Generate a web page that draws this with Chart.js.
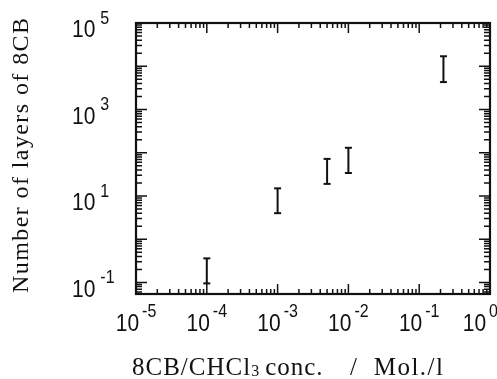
<!DOCTYPE html>
<html>
<head>
<meta charset="utf-8">
<script src="https://cdn.jsdelivr.net/npm/chart.js@4/dist/chart.umd.min.js"></script>
<style>
  html, body { margin: 0; padding: 0; background: #fff; }
  #wrap { width: 497px; height: 379px; }
</style>
</head>
<body>
<div id="wrap"><canvas id="c"></canvas></div>
<script>
// concentrations (Mol./l) and error-bar limits for the number of layers
var concentrations = [1e-4, 1e-3, 5e-3, 1e-2, 0.22];
var layersLow  = [0.095, 4.0, 19, 34, 4300];
var layersHigh = [0.36, 15, 72, 130, 17000];

// decade exponents used for axis labels and ticks
var xLabelExps = [-5, -4, -3, -2, -1, 0];
var yLabelExps = [-1, 1, 3, 5];
var xTickExps = [-5, -4, -3, -2, -1];
var yTickExps = [-2, -1, 0, 1, 2, 3, 4];

var yTitle = 'Number of layers of 8CB';

// one line dataset: low -> high per point, broken by nulls
var barPoints = [];
concentrations.forEach(function(c, i) {
    barPoints.push({ x: c, y: layersLow[i] });
    barPoints.push({ x: c, y: layersHigh[i] });
    barPoints.push({ x: c, y: null });
});

function spacedText(ctx, str, x, y, spacing) {
    for (var i = 0; i < str.length; i++) {
        ctx.fillText(str[i], x, y);
        x += ctx.measureText(str[i]).width + spacing;
    }
    return x - spacing;
}
function spacedWidth(ctx, str, spacing) {
    var w = 0;
    for (var i = 0; i < str.length; i++) w += ctx.measureText(str[i]).width;
    return w + spacing * (str.length - 1);
}
// draw str so it spans from x0 to x1
function fitText(ctx, str, x0, x1, y) {
    var sp = (x1 - x0 - spacedWidth(ctx, str, 0)) / Math.max(1, str.length - 1);
    return spacedText(ctx, str, x0, y, sp);
}

var SERIF = '"Liberation Serif", "Times New Roman", serif';
var SANS = '"Liberation Sans", Arial, sans-serif';

// sans label drawn a little taller, like the scanned figure
function label(ctx, str, x, y, size) {
    ctx.save();
    ctx.translate(x, y);
    ctx.scale(1, 1.12);
    ctx.font = size + 'px ' + SANS;
    ctx.fillText(str, 0, 0);
    ctx.restore();
}

var framePlugin = {
    id: 'frame',
    afterDraw: function(chart) {
        var ctx = chart.ctx, a = chart.chartArea;
        var xs = chart.scales.x, ys = chart.scales.y;
        var W = chart.width;
        ctx.save();
        ctx.strokeStyle = '#111';
        ctx.fillStyle = '#111';

        // inward ticks on all four sides
        ctx.lineWidth = 1.5;
        ctx.beginPath();
        xTickExps.forEach(function(e) {
            for (var m = 1; m <= 9; m++) {
                var px = xs.getPixelForValue(m * Math.pow(10, e));
                if (px < a.left - 0.5 || px > a.right + 0.5) continue;
                var len = m === 1 ? 10 : 5;
                ctx.moveTo(px, a.bottom); ctx.lineTo(px, a.bottom - len);
                ctx.moveTo(px, a.top); ctx.lineTo(px, a.top + len);
            }
        });
        yTickExps.forEach(function(e) {
            for (var m = 1; m <= 9; m++) {
                var py = ys.getPixelForValue(m * Math.pow(10, e));
                if (py < a.top - 0.5 || py > a.bottom + 0.5) continue;
                var len = m === 1 ? 11 : 6;
                ctx.moveTo(a.left, py); ctx.lineTo(a.left + len, py);
                ctx.moveTo(a.right, py); ctx.lineTo(a.right - len, py);
            }
        });
        ctx.stroke();

        // frame
        ctx.lineWidth = 2.2;
        ctx.strokeRect(a.left, a.top, a.right - a.left, a.bottom - a.top);

        // tick labels 10^n
        ctx.textBaseline = 'middle';
        ctx.textAlign = 'left';
        xLabelExps.forEach(function(e) {
            var px = xs.getPixelForValue(Math.pow(10, e));
            ctx.font = '21px ' + SANS; var w1 = ctx.measureText('10').width;
            ctx.font = '16px ' + SANS; var w2 = ctx.measureText(String(e)).width;
            var total = w1 + 3 + w2;
            var left = Math.min(px - total / 2, W + 1 - total);
            label(ctx, '10', left, 325, 21);
            label(ctx, String(e), left + w1 + 3, 312, 16);
        });
        yLabelExps.forEach(function(e) {
            var py = ys.getPixelForValue(Math.pow(10, e));
            ctx.font = '21px ' + SANS; var w1 = ctx.measureText('10').width;
            label(ctx, '10', 72, py + 8, 21);
            label(ctx, String(e), 72 + w1 + 5, py - 4, 16);
        });

        // axis titles
        ctx.textBaseline = 'alphabetic';
        ctx.font = '24px ' + SERIF;
        ctx.save();
        ctx.translate(28, 293);
        ctx.rotate(-Math.PI / 2);
        fitText(ctx, yTitle, 0, 275, 0);
        ctx.restore();

        var base = 375;
        ctx.font = '25px ' + SERIF;
        var x = spacedText(ctx, '8CB/CHCl', 132, base, 1);
        ctx.font = '16px ' + SERIF;
        x = spacedText(ctx, '3', x + 1, base + 1, 0);
        ctx.font = '25px ' + SERIF;
        spacedText(ctx, 'conc.', x + 6, base, 1);
        ctx.fillText('/', 350, base);
        var wm = spacedWidth(ctx, 'Mol./l', 1.5);
        spacedText(ctx, 'Mol./l', 443 - wm, base, 1.5);
        ctx.restore();
    }
};

new Chart(document.getElementById('c'), {
    type: 'line',
    data: {
        datasets: [{
            data: barPoints,
            borderColor: '#111',
            backgroundColor: '#111',
            borderWidth: 2,
            spanGaps: false,
            pointStyle: 'line',
            pointRadius: 3.5,
            pointBorderWidth: 2,
            pointBorderColor: '#111'
        }]
    },
    options: {
        responsive: true,
        maintainAspectRatio: false,
        animation: false,
        layout: { padding: { left: 136, right: 7, top: 23, bottom: 85 } },
        plugins: { legend: { display: false }, tooltip: { enabled: false } },
        scales: {
            x: { type: 'logarithmic', min: 1e-5, max: 1, display: false },
            y: { type: 'logarithmic', min: 0.054, max: 1e5, display: false }
        }
    },
    plugins: [framePlugin]
});
</script>
</body>
</html>
